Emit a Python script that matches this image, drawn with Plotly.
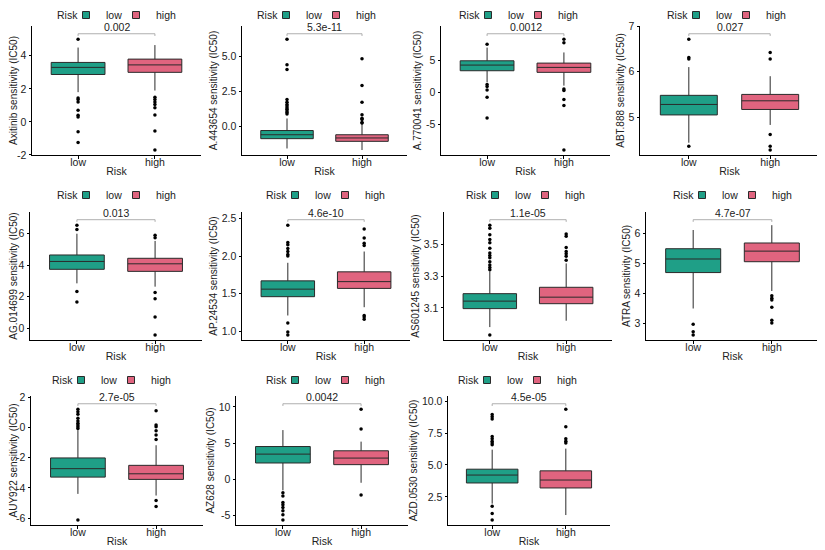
import plotly.graph_objects as go

# drug names and p values (one panel per drug)
drugs = ["Axitinib", "A.443654", "A.770041", "ABT.888", "AG.014699", "AP.24534",
         "AS601245", "ATRA", "AUY922", "AZ628", "AZD.0530"]
pvals = ["0.002", "5.3e-11", "0.0012", "0.027", "0.013", "4.6e-10",
         "1.1e-05", "4.7e-07", "2.7e-05", "0.0042", "4.5e-05"]

# box stats for the low risk group
low_q1 = [2.87, -0.86, 3.35, 5.05, 3.74, 1.46, 3.096, 4.69, -3.29, 2.24, 3.59]
low_med = [3.30, -0.58, 4.23, 5.28, 4.24, 1.56, 3.143, 5.14, -2.73, 3.47, 4.21]
low_q3 = [3.60, -0.28, 4.90, 5.48, 4.65, 1.67, 3.190, 5.48, -2.02, 4.52, 4.67]
low_lo = [1.80, -1.56, 1.55, 4.44, 2.85, 1.21, 2.980, 3.50, -4.40, -1.55, 1.97]
low_hi = [4.50, 0.58, 6.96, 6.10, 6.00, 1.91, 3.330, 6.10, -0.18, 6.80, 6.20]
low_out = [
    [5.0, 1.45, 1.35, 1.2, 0.7, 0.4, 0.3, -0.6, -1.25],
    [6.23, 4.42, 4.07, 1.93, 1.74, 1.58, 1.47, 1.35, 1.23, 1.12, 1.0, 0.9],
    [7.47, 1.2, 0.9, 0.36, -0.77, -4.0],
    [6.71, 6.31, 6.28, 4.36],
    [6.54, 6.27, 2.33, 1.66],
    [2.41, 2.18, 2.15, 2.1, 2.06, 2.02, 2.0, 1.11, 0.99, 0.95],
    [3.62, 3.6, 3.56, 3.53, 3.51, 3.475, 3.445, 3.43, 3.415, 3.39, 3.37, 3.355, 3.34, 2.93],
    [2.98, 2.73, 2.62],
    [1.2, 1.04, 0.87, 0.6, 0.42, 0.27, 0.16, 0.04, -0.07, -6.13],
    [-1.87, -2.33, -3.24, -3.56, -3.93, -4.38, -4.93, -5.66],
    [8.95, 8.77, 8.59, 7.23, 7.05, 6.85, 6.72, 6.59, 1.77, 1.21, 0.69],
]

# box stats for the high risk group
high_q1 = [3.00, -1.05, 3.10, 5.17, 3.61, 1.57, 3.127, 5.05, -3.44, 2.01, 3.20]
high_med = [3.45, -0.81, 3.87, 5.36, 4.09, 1.66, 3.168, 5.40, -3.07, 2.92, 3.82]
high_q3 = [3.80, -0.58, 4.54, 5.50, 4.44, 1.79, 3.230, 5.67, -2.51, 3.93, 4.54]
high_lo = [1.90, -1.67, 1.03, 4.83, 2.64, 1.32, 3.020, 4.08, -4.51, -0.50, 1.08]
high_hi = [4.65, 0.19, 6.20, 5.90, 5.54, 2.06, 3.380, 6.26, -1.18, 5.20, 6.28]
high_out = [
    [1.5, 1.35, 1.2, 1.05, 0.85, 0.42, -0.55, -1.7],
    [4.84, 2.93, 1.74, 0.84, 0.6, 0.5, 0.3, 0.25],
    [8.25, 7.73, 0.5, 0.26, -1.13, -2.06, -9.0],
    [6.42, 6.28, 4.62, 4.36, 4.28],
    [5.9, 5.75, 2.27, 1.87, 0.71, -0.43],
    [2.36, 2.24, 2.17, 2.14, 1.21, 1.19, 1.16],
    [3.564, 3.55, 3.48, 3.455, 3.44, 3.425, 3.4],
    [3.92, 3.84, 3.78, 3.54, 3.11, 3.02],
    [1.11, 0.16, 0.04, -0.22, -0.51, -0.8, -4.84, -5.24],
    [9.68, 6.94, -2.19],
    [9.36, 8.0, 7.05, 6.85, 6.72],
]

# y tick values / labels
yticks = [[-2, 0, 2, 4], [0, 2.5, 5], [-5, 0, 5], [5, 6, 7], [0, 2, 4, 6],
          [1, 1.5, 2, 2.5], [3.1, 3.3, 3.5], [3, 4, 5, 6], [-6, -4, -2, 0, 2],
          [-5, 0, 5, 10], [2.5, 5, 7.5, 10]]
ytick_text = [["-2", "0", "2", "4"], ["0.0", "2.5", "5.0"], ["-5", "0", "5"],
              ["5", "6", "7"], ["0", "2", "4", "6"], ["1.0", "1.5", "2.0", "2.5"],
              ["3.1", "3.3", "3.5"], ["3", "4", "5", "6"], ["-6", "-4", "-2", "0", "2"],
              ["-5", "0", "5", "10"], ["2.5", "5.0", "7.5", "10.0"]]

groups = ["low", "high"]
colors = {"low": "#1f9f87", "high": "#e0647f"}
key_width = {"low": 5, "high": 24}

# panel boxes in page pixels (left, right, top, bottom), legend row y, "Risk" label end
W, H = 825, 550
OFF = 8  # page body margin
panels = [(32, 201, 26, 155), (242, 407, 26, 155), (441, 610, 26, 155), (640, 819, 26, 155),
          (30, 202, 212, 340), (242, 410, 212, 340), (444, 612, 212, 340), (646, 819, 212, 340),
          (31, 203, 396, 525), (236, 408, 396, 525), (448, 610, 396, 525)]
legend_y = [15] * 4 + [195] * 4 + [380] * 3
risk_end = [88, 288, 490, 698, 88, 297, 497, 704, 83, 297, 489]


def px(v):
    return (v - OFF) / W


def py(v):
    return 1 - (v - OFF) / H


font = "Arial, Liberation Sans, sans-serif"
fs = 10.5
fig = go.Figure()
layout = {}

for i, drug in enumerate(drugs):
    k = "" if i == 0 else str(i + 1)
    xa, ya, lg = "x" + k, "y" + k, "legend" + k
    stats = {
        "low": (low_q1[i], low_med[i], low_q3[i], low_lo[i], low_hi[i], low_out[i]),
        "high": (high_q1[i], high_med[i], high_q3[i], high_lo[i], high_hi[i], high_out[i]),
    }
    for g in groups:
        q1, md, q3, lo, hi, out = stats[g]
        fig.add_trace(go.Box(
            x=[g], q1=[q1], median=[md], q3=[q3], lowerfence=[lo], upperfence=[hi],
            name=g, fillcolor=colors[g], line=dict(color="#2a2a2a", width=1),
            width=0.7, whiskerwidth=0, boxpoints=False, hoverinfo="skip",
            showlegend=False, xaxis=xa, yaxis=ya))
        fig.add_trace(go.Scatter(
            x=[g] * len(out), y=out, mode="markers",
            marker=dict(color="black", size=3.5), showlegend=False,
            xaxis=xa, yaxis=ya))
        # legend key
        fig.add_trace(go.Scatter(
            x=[None], y=[None], mode="markers", name=g, legendwidth=key_width[g],
            marker=dict(symbol="square", size=7, color=colors[g],
                        line=dict(color="#2a2a2a", width=1)),
            legend=lg, xaxis=xa, yaxis=ya))

    vals = [low_lo[i], low_hi[i], high_lo[i], high_hi[i]] + low_out[i] + high_out[i]
    dmin, dmax = min(vals), max(vals)
    s = dmax - dmin
    b = dmax + 0.05 * s
    t = 0.02 * s
    fig.add_trace(go.Scatter(
        x=["low", "low", "high", "high"], y=[b - t, b, b, b - t], mode="lines",
        line=dict(color="#9a9a9a", width=0.8), showlegend=False, hoverinfo="skip",
        xaxis=xa, yaxis=ya))
    fig.add_annotation(x=0.5, y=b, xref=xa, yref=ya, text=pvals[i], showarrow=False,
                       yanchor="bottom", yshift=-1, font=dict(size=fs, color="#222"))

    l, r, tp, bt = panels[i]
    layout["xaxis" + k] = dict(
        domain=[px(l), px(r)], anchor=ya, type="category", automargin=False,
        categoryorder="array", categoryarray=groups, range=[-0.6, 1.6],
        showline=True, linecolor="black", linewidth=1, ticks="outside", ticklen=2.5,
        tickcolor="black", showgrid=False, zeroline=False, ticklabelstandoff=-5,
        tickfont=dict(size=fs, color="#222"),
        title=dict(text="Risk", font=dict(size=fs, color="#222"), standoff=0))
    layout["yaxis" + k] = dict(
        domain=[py(bt), py(tp)], anchor=xa, automargin=False,
        range=[dmin - 0.045 * s, dmax + 0.12 * s],
        tickvals=yticks[i], ticktext=ytick_text[i],
        showline=True, linecolor="black", linewidth=1, ticks="outside", ticklen=2.5,
        tickcolor="black", showgrid=False, zeroline=False,
        tickfont=dict(size=fs, color="#222"),
        title=dict(text=drug + " sensitivity (IC50)", font=dict(size=fs - 0.5, color="#222"),
                   standoff=2))
    # legend title as a separate label so it sits on the item row
    rx = risk_end[i] - 8
    fig.add_annotation(x=px(rx), y=py(legend_y[i]), xref="paper", yref="paper",
                       text="Risk", showarrow=False, xanchor="right", yanchor="middle",
                       font=dict(size=fs, color="#222"))
    layout[lg] = dict(
        orientation="h", x=px(rx - 14), xanchor="left",
        y=py(legend_y[i]), yanchor="middle",
        font=dict(size=fs, color="#222"), itemwidth=30, bgcolor="rgba(0,0,0,0)")

fig.update_layout(**layout)
fig.update_layout(width=W, height=H, autosize=False,
                  margin=dict(l=0, r=0, t=0, b=0, autoexpand=False),
                  paper_bgcolor="white", plot_bgcolor="white",
                  font=dict(family=font, color="#222"))

fig.write_html("out.html")
